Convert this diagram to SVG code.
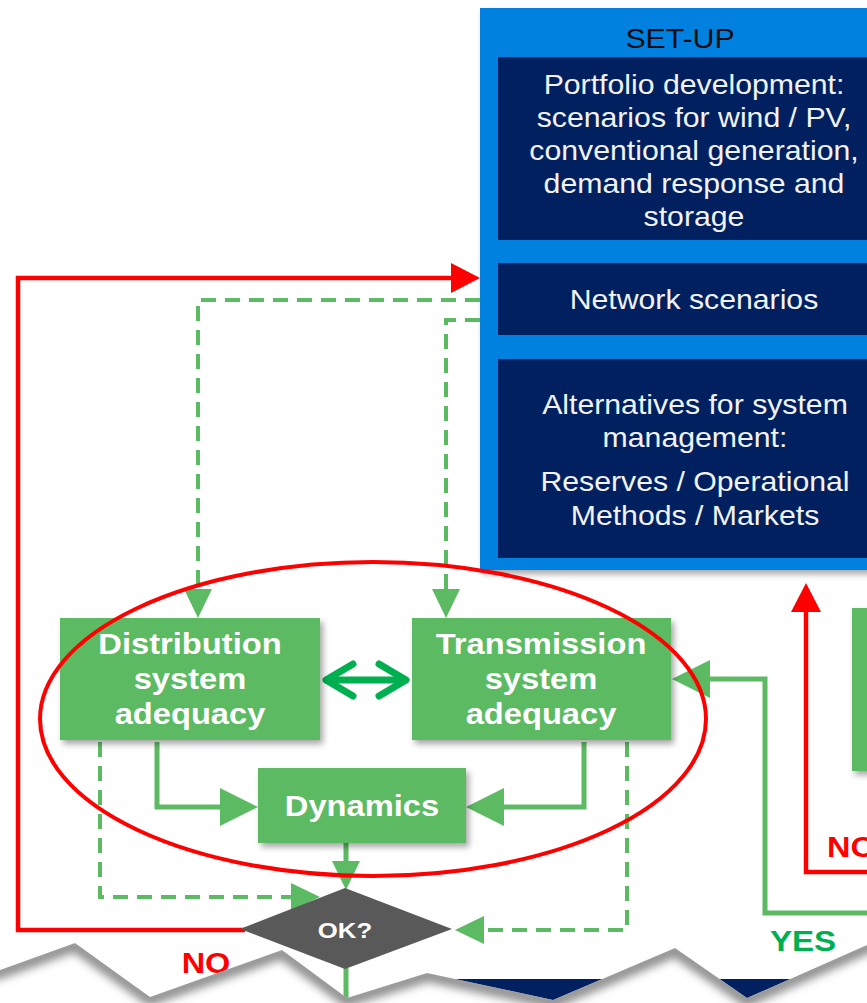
<svg xmlns="http://www.w3.org/2000/svg" width="867" height="1003" viewBox="0 0 867 1003">
<style>
.reg{font-family:"Liberation Sans",Arial,sans-serif;font-size:28px;fill:#F2F2F2;text-anchor:middle}
.bold{font-family:"Liberation Sans",Arial,sans-serif;font-weight:bold;font-size:30px;fill:#FFFFFF;text-anchor:middle}
.navy{fill:#002060}
.gbox{fill:#5CBA63}
.dash{fill:none;stroke:#5CBA63;stroke-width:4;stroke-dasharray:15 9}
.solid{fill:none;stroke:#5CBA63;stroke-width:5}
.red{fill:none;stroke:#FF0000;stroke-width:4.5}
</style>
<defs>
<filter id="sh" x="-10%" y="-10%" width="130%" height="140%">
<feDropShadow dx="3" dy="4" stdDeviation="3" flood-color="#000" flood-opacity="0.35"/>
</filter>
<filter id="blur" x="-5%" y="-50%" width="110%" height="200%">
<feGaussianBlur stdDeviation="4"/>
</filter>
<marker id="agBig" markerUnits="userSpaceOnUse" viewBox="0 0 38 38" markerWidth="38" markerHeight="38" refX="28" refY="19" orient="auto">
<path d="M0,0 L38,19 L0,38 Z" fill="#5CBA63"/>
</marker>
<marker id="agSm" markerUnits="userSpaceOnUse" viewBox="0 0 29 28" markerWidth="29" markerHeight="28" refX="19" refY="14" orient="auto">
<path d="M0,0 L29,14 L0,28 Z" fill="#5CBA63"/>
</marker>
<marker id="ar" markerUnits="userSpaceOnUse" viewBox="0 0 29 30" markerWidth="29" markerHeight="30" refX="19" refY="15" orient="auto">
<path d="M0,0 L29,15 L0,30 Z" fill="#FF0000"/>
</marker>
<clipPath id="below">
<polygon points="-10,972 0,970 75,943 150,997 282,950 347,998 427,973 553,1000 675,948 747,998 867,945 880,940 880,1010 -10,1010"/>
</clipPath>
</defs>
<rect x="0" y="0" width="867" height="1003" fill="#FFFFFF"/>

<g id="setup">
<rect x="480" y="8" width="400" height="562" fill="#0080DF" filter="url(#sh)"/>
<text transform="translate(680 0) scale(1.08 1)" x="0" y="48" style="font-family:'Liberation Sans',Arial,sans-serif;font-size:28px;fill:#0D0D0D;text-anchor:middle">SET-UP</text>
</g>
<g id="portfolio">
<rect class="navy" x="498" y="57" width="392" height="183"/>
<g transform="translate(694 0) scale(1.08 1)">
<text class="reg" x="0" y="94">Portfolio development:</text>
<text class="reg" x="0" y="127">scenarios for wind / PV,</text>
<text class="reg" x="0" y="160">conventional generation,</text>
<text class="reg" x="0" y="193">demand response and</text>
<text class="reg" x="0" y="226">storage</text>
</g>
</g>
<g id="network">
<rect class="navy" x="498" y="263" width="392" height="72"/>
<text class="reg" transform="translate(694 0) scale(1.08 1)" x="0" y="309">Network scenarios</text>
</g>
<g id="alternatives">
<rect class="navy" x="498" y="359" width="392" height="199"/>
<g transform="translate(695 0) scale(1.08 1)">
<text class="reg" x="0" y="414">Alternatives for system</text>
<text class="reg" x="0" y="447">management:</text>
<text class="reg" x="0" y="491">Reserves / Operational</text>
<text class="reg" x="0" y="525">Methods / Markets</text>
</g>
</g>

<g id="connectors">
<path class="red" d="M245,930 H18 V278 H470" marker-end="url(#ar)"/>
<path class="red" d="M880,872 H806 V593" marker-end="url(#ar)"/>
<path class="solid" d="M880,913 H765 V679 H682" marker-end="url(#agBig)"/>
<path class="dash" d="M480,300 H198 V608" marker-end="url(#agSm)"/>
<path class="dash" d="M480,320 H446 V608" marker-end="url(#agSm)"/>
<path class="dash" d="M100,742 V897 H310" marker-end="url(#agSm)"/>
<path class="dash" d="M627,742 V930 H465" marker-end="url(#agSm)"/>
<path class="solid" d="M157,742 V807 H248" marker-end="url(#agBig)"/>
<path class="solid" d="M584,742 V807 H476" marker-end="url(#agBig)"/>
<path class="solid" d="M346,843 V880" marker-end="url(#agSm)"/>
<path class="solid" d="M346,968 V1003"/>
<g fill="none" stroke="#00B050" stroke-width="7" stroke-linecap="round" stroke-linejoin="round">
<path d="M327,680 H405"/>
<path d="M353,664 L326,680 L353,696"/>
<path d="M379,664 L406,680 L379,696"/>
</g>
</g>

<g id="distribution">
<rect class="gbox" x="60" y="618" width="260" height="122" filter="url(#sh)"/>
<g transform="translate(190 0) scale(1.09 1)">
<text class="bold" x="0" y="654">Distribution</text>
<text class="bold" x="0" y="689">system</text>
<text class="bold" x="0" y="724">adequacy</text>
</g>
</g>
<g id="transmission">
<rect class="gbox" x="412" y="618" width="259" height="122" filter="url(#sh)"/>
<g transform="translate(541 0) scale(1.09 1)">
<text class="bold" x="0" y="654">Transmission</text>
<text class="bold" x="0" y="689">system</text>
<text class="bold" x="0" y="724">adequacy</text>
</g>
</g>
<g id="dynamics">
<rect class="gbox" x="258" y="768" width="208" height="75" filter="url(#sh)"/>
<text class="bold" transform="translate(362 0) scale(1.09 1)" x="0" y="816">Dynamics</text>
</g>
<g id="right-box">
<rect class="gbox" x="852" y="608" width="40" height="163" filter="url(#sh)"/>
</g>
<g id="ok">
<polygon points="240,929 345,888 452,929 345,969" fill="#595959"/>
<text class="bold" transform="translate(345 0) scale(1.12 1)" x="0" y="938" style="font-size:23px">OK?</text>
</g>

<g id="labels">
<text transform="translate(206 0) scale(1.12 1)" x="0" y="973" style="font-family:'Liberation Sans',Arial,sans-serif;font-weight:bold;font-size:29px;fill:#FF0000;text-anchor:middle">NO</text>
<text transform="translate(827 0) scale(1.12 1)" x="0" y="857" style="font-family:'Liberation Sans',Arial,sans-serif;font-weight:bold;font-size:29px;fill:#FF0000">NO</text>
<text transform="translate(803 0) scale(1.14 1)" x="0" y="951" style="font-family:'Liberation Sans',Arial,sans-serif;font-weight:bold;font-size:29px;fill:#00B050;text-anchor:middle">YES</text>
</g>

<g id="scope-ellipse">
<ellipse cx="373" cy="719" rx="333" ry="157" fill="none" stroke="#FF0000" stroke-width="4"/>
</g>

<g id="lower-box">
<rect class="navy" x="430" y="979" width="380" height="30"/>
</g>

<g id="torn-edge">
<polygon points="-10,972 0,970 75,943 150,997 282,950 347,998 427,973 553,1000 675,948 747,998 867,945 880,940 880,1010 -10,1010" fill="#FFFFFF"/>
<g clip-path="url(#below)">
<polyline points="-10,974 0,972 75,945 150,999 282,952 347,1000 427,975 553,1002 675,950 747,1000 867,947 880,942" fill="none" stroke="#6E6E6E" stroke-width="14" stroke-opacity="0.75" filter="url(#blur)"/>
</g>
</g>
</svg>
